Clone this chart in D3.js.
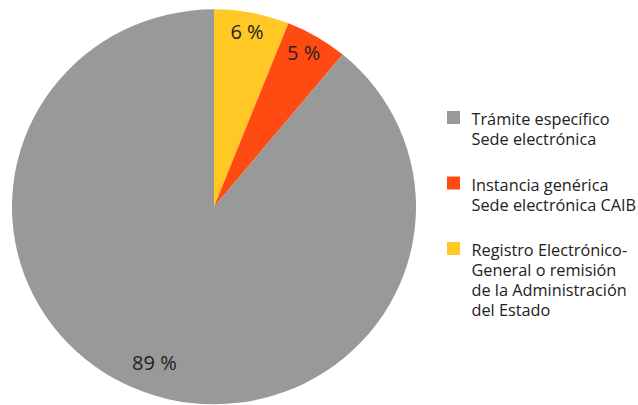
<!DOCTYPE html>
<html>
<head>
<meta charset="utf-8">
<script src="https://cdn.jsdelivr.net/npm/d3@7"></script>
<style>
  html, body { margin: 0; padding: 0; background: #ffffff; }
  svg { display: block; }
  text { font-family: "Open Sans", "Noto Sans", sans-serif; fill: #222222; }
</style>
</head>
<body>
<svg id="chart" width="638" height="405"></svg>
<script>
// Share of submissions by channel (percent), clockwise from 12 o'clock
const categories = [
  "Registro Electrónico General o remisión de la Administración del Estado",
  "Instancia genérica Sede electrónica CAIB",
  "Trámite específico Sede electrónica"
];
const values = [6, 5, 89];
const valueLabels = ["6 %", "5 %", "89 %"];
const colors = ["#ffc824", "#ff4b12", "#999999"];

// Legend entries (top to bottom) with their line breaks, pointing to the slice index
const legendOrder = [2, 1, 0];
const legendLines = [
  ["Trámite específico", "Sede electrónica"],
  ["Instancia genérica", "Sede electrónica CAIB"],
  ["Registro Electrónico-", "General o remisión", "de la Administración", "del Estado"]
];

const svg = d3.select("#chart");

// Pie geometry
const cx = 214, cy = 206.8, rx = 202, ry = 197.5;
const squash = ry / rx;

const pie = d3.pie().sort(null).value(d => d)(values);
const arc = d3.arc().innerRadius(0).outerRadius(rx);
const labelArc = d3.arc().innerRadius(176).outerRadius(176);

const g = svg.append("g").attr("transform", `translate(${cx},${cy})`);

g.append("g")
  .attr("transform", `scale(1,${squash})`)
  .selectAll("path")
  .data(pie)
  .join("path")
  .attr("d", arc)
  .attr("fill", (d, i) => colors[i]);

g.selectAll("text.value")
  .data(pie)
  .join("text")
  .attr("class", "value")
  .attr("x", d => labelArc.centroid(d)[0])
  .attr("y", d => labelArc.centroid(d)[1] * squash)
  .attr("dy", "0.05em")
  .attr("text-anchor", "middle")
  .style("font-size", "20px")
  .text((d, i) => valueLabels[i]);

// Legend
const legend = svg.append("g");
const lineH = 20, groupGap = 25.5, sw = 13;
let baseline = 125;
legendOrder.forEach((idx, k) => {
  const row = legend.append("g");
  row.append("rect")
    .attr("x", 447)
    .attr("y", baseline - 14)
    .attr("width", sw)
    .attr("height", sw)
    .attr("fill", colors[idx]);
  const t = row.append("text")
    .attr("x", 471.5)
    .attr("y", baseline)
    .style("font-size", "16.3px");
  legendLines[k].forEach((line, j) => {
    t.append("tspan")
      .attr("x", 471.5)
      .attr("y", baseline + j * lineH)
      .text(line);
  });
  baseline += legendLines[k].length * lineH + groupGap;
});
</script>
</body>
</html>
